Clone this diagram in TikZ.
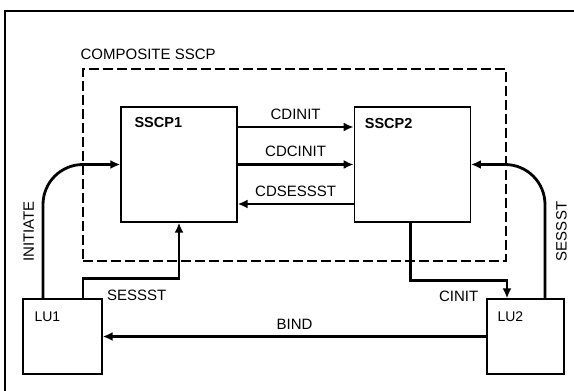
\documentclass[tikz,border=0pt]{standalone}
\usepackage{fontspec}
\setmainfont{Liberation Sans}
\usetikzlibrary{arrows.meta,positioning}

\begin{document}
\begin{tikzpicture}[x=1pt,y=1pt,node distance=116pt,>=Latex,every node/.style={font=\fontsize{15}{18}\selectfont}, unitbox/.style={draw, line width=1.3pt, fill=white, inner sep=0pt}, boxlabel/.style={anchor=north west, inner sep=0pt}, flow/.style={-{Latex[length=10pt,width=9pt]}, line width=2.8pt}]
        \useasboundingbox (0,0) rectangle (574,391);
        \draw[line width=1.6pt] (5,0) -- (5,380) -- (574,380);

        \node[draw, dash pattern=on 10pt off 4pt, line width=1.2pt, minimum width=423pt, minimum height=192pt] (composite) at (294.5,226) {};
        \node[anchor=south west, inner sep=0pt] (ctitle) at ([xshift=-2pt,yshift=9pt]composite.north west) {COMPOSITE SSCP};

        \node[unitbox, minimum width=116pt, minimum height=115pt] (sscp1) at (179,226.5) {};
        \node[unitbox, minimum width=116pt, minimum height=115pt, right=of sscp1] (sscp2) {};
        \node[unitbox, minimum width=79pt, minimum height=75pt] (lu1) at (62.5,54.5) {};
        \node[unitbox, minimum width=77pt, minimum height=75pt] (lu2) at (525.5,54.5) {};

        \node[boxlabel, font=\fontsize{14.5}{17}\selectfont\bfseries] (sscp1label) at ([xshift=14pt,yshift=-11pt]sscp1.north west) {SSCP1};
        \node[boxlabel, font=\fontsize{14.5}{17}\selectfont\bfseries] (sscp2label) at ([xshift=11pt,yshift=-12pt]sscp2.north west) {SSCP2};
        \node[boxlabel, font=\fontsize{14}{17}\selectfont] (lu1label) at ([xshift=12pt,yshift=-13pt]lu1.north west) {LU1};
        \node[boxlabel, font=\fontsize{14}{17}\selectfont] (lu2label) at ([xshift=11pt,yshift=-13pt]lu2.north west) {LU2};

        \draw[flow] ([yshift=37.5pt]sscp1.east) -- node[above=3pt] {CDINIT} ([yshift=37.5pt]sscp2.west);
        \draw[flow] (sscp1.east) -- node[above=3pt] {CDCINIT} (sscp2.west);
        \draw[flow] ([yshift=-39.5pt]sscp2.west) -- node[above=3pt] {CDSESSST} ([yshift=-39.5pt]sscp1.east);
        \draw[flow, rounded corners=40pt] ([xshift=-19.5pt]lu1.north) |- node[pos=0.25, sloped, above=4.5pt] {INITIATE} (sscp1.west);
        \draw[flow] ([xshift=20.5pt]lu1.north) -- ++(0,20pt) -| node[pos=0.28, below=6.5pt] {SESSST} (sscp1.south);
        \draw[flow, line width=2.3pt] (lu2.west) -- node[above=2.5pt] {BIND} (lu1.east);
        \draw[flow] ([xshift=-2pt]sscp2.south) -- ++(0,-58pt) -| node[pos=0.25, below=5.5pt] {CINIT} ([xshift=-18.5pt]lu2.north);
        \draw[flow, rounded corners=40pt] ([xshift=19.5pt]lu2.north) |- node[pos=0.25, sloped, below=6.5pt] {SESSST} (sscp2.east);
    \end{tikzpicture}
\end{document}
